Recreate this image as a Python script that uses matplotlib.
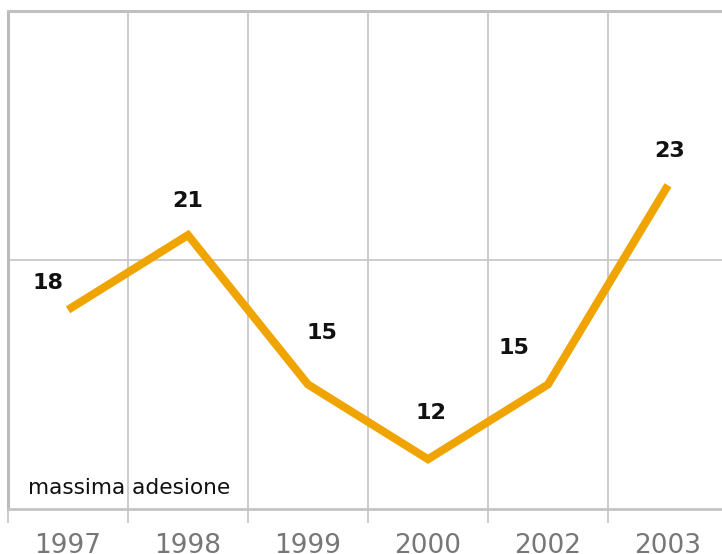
import matplotlib
matplotlib.use("Agg")
import matplotlib.pyplot as plt
import numpy as np

# dati
anni = ['1997', '1998', '1999', '2000', '2002', '2003']
valori = [18, 21, 15, 12, 15, 23]
# spostamento delle etichette rispetto al punto (pixel)
off_etichette = [(-20, 27), (0, 34), (14, 51), (3, 46), (-34, 36), (2, 34)]

grigio = '#c8c8c8'
arancio = '#f0a400'

fig = plt.figure(figsize=(7.22, 5.54), dpi=100)
ax = fig.add_axes([8/722, 45/554, 720/722, 498/554])

x = np.arange(len(anni)) + 0.5
ax.plot(x, valori, color=arancio, lw=5.8, solid_joinstyle='miter', solid_capstyle='butt', zorder=3)

for xi, v, (dx, dy) in zip(x, valori, off_etichette):
    ax.annotate(str(v), (xi, v), xytext=(dx*0.72, dy*0.72), textcoords='offset points',
                ha='center', va='center', fontsize=16, fontweight='bold', color='#111111')

ax.set_xlim(0, 6)
ax.set_ylim(10, 30)

# griglia
for b in range(1, 6):
    ax.axvline(b, color=grigio, lw=1.3, zorder=1)
ax.axhline(20, color=grigio, lw=1.3, zorder=1)

ax.spines['right'].set_visible(False)
ax.spines['left'].set_color('#bbbbbb')
ax.spines['left'].set_linewidth(2.2)
ax.spines['top'].set_color('#c0c0c0')
ax.spines['top'].set_linewidth(2.2)
ax.spines['bottom'].set_color('#c4c4c4')
ax.spines['bottom'].set_linewidth(2.0)

ax.set_yticks([])
ax.set_xticks(x)
ax.set_xticklabels(anni, fontsize=19, color='#777777')
ax.tick_params(axis='x', which='major', length=0, pad=17)
ax.set_xticks(np.arange(0, 7), minor=True)
ax.tick_params(axis='x', which='minor', length=10, width=1.3, color=grigio, direction='out')

ax.text(20/720, 11/498, 'massima adesione', transform=ax.transAxes, fontsize=15.6,
        color='#111111', ha='left', va='bottom')

fig.savefig('out.png', dpi=100)
